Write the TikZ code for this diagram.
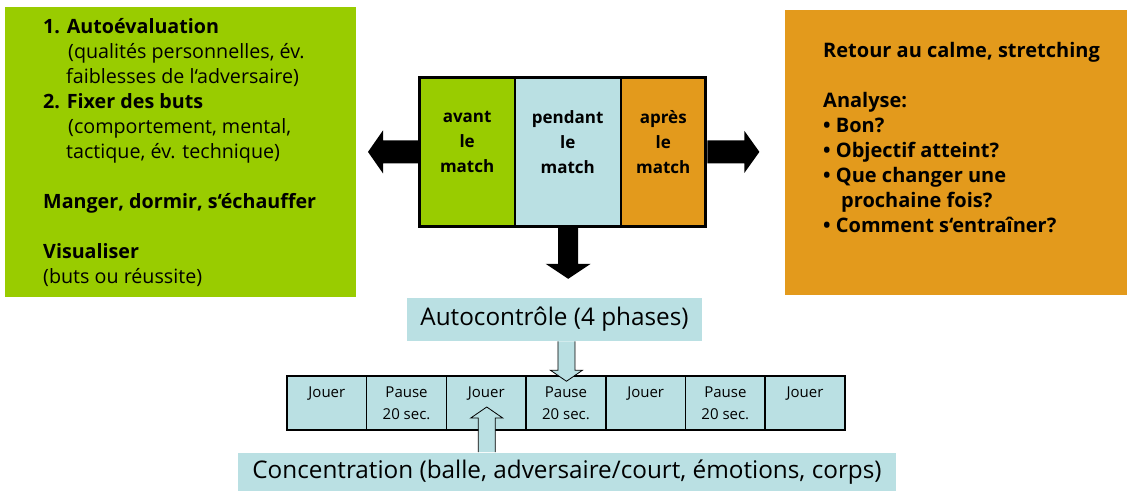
\documentclass[tikz,border=0pt]{standalone}
\usepackage{fontspec}
\setmainfont{Open Sans}
\usetikzlibrary{calc}

\definecolor{prepgreen}{RGB}{153,204,0}
\definecolor{playblue}{RGB}{186,224,227}
\definecolor{afterorange}{RGB}{227,154,28}

\begin{document}
\begin{tikzpicture}[x=1pt,y=-1pt,
  sidebox/.style={minimum width=#1,minimum height=290pt,inner sep=0pt,anchor=north west},
  sidetext/.style={anchor=west,align=left,inner sep=0pt,font=\fontsize{19.7}{25}\selectfont},
  phase/.style={draw=black,line width=0.8pt,minimum width=#1,minimum height=148pt,inner sep=0pt,anchor=north west},
  phasetext/.style={align=center,font=\bfseries\fontsize{17}{25}\selectfont},
  cell/.style={draw=black,line width=1.5pt,fill=playblue,minimum width=79.7pt,minimum height=54pt,
    inner sep=0pt,align=center,font=\fontsize{15}{22}\selectfont},
  banner/.style={fill=playblue,inner sep=0pt,font=\fontsize{24.3}{28}\selectfont},
  hollow/.style={fill=playblue,draw=black,line width=0.8pt,line join=miter}]
  \useasboundingbox (0,0) rectangle (1127,491);

  % before / after boxes
  \node[sidebox=351pt,fill=prepgreen] (prep) at (5,7) {};
  \node[sidebox=342pt,fill=afterorange,minimum height=285pt] (retour) at (785,10) {};

  \node[sidetext] (preptext) at ($(prep.west)+(38,0)$) {%
    \textbf{1. Autoévaluation}\\
    \hspace*{25pt}(qualités personnelles, év.\\
    \hspace*{23pt}faiblesses de l‘adversaire)\\
    \textbf{2. Fixer des buts}\\
    \hspace*{25pt}(comportement, mental,\\
    \hspace*{23pt}tactique, év. technique)\\[25pt]
    \textbf{Manger, dormir, s‘échauffer}\\[25pt]
    \textbf{Visualiser}\\
    (buts ou réussite)};

  \node[sidetext,font=\bfseries\fontsize{20}{25}\selectfont] (retourtext) at ($(retour.west)+(38,-15)$) {%
    Retour au calme, stretching\\[25pt]
    Analyse:\\
    • Bon?\\
    • Objectif atteint?\\
    • Que changer une\\
    \hspace*{18pt}prochaine fois?\\
    • Comment s‘entraîner?};

  % the match in three phases
  \node[phase=94.5pt,fill=prepgreen] (avant) at (419.5,77.5) {};
  \node[phase=105pt,fill=playblue] (pendant) at (avant.north east) {};
  \node[phase=84.5pt,fill=afterorange] (apres) at (pendant.north east) {};
  \draw[line width=3pt] (avant.north west) rectangle (apres.south east);
  \node[phasetext] (avantlbl) at ($(avant.center)+(0,-9.5)$) {avant\\le\\match};
  \node[phasetext] (pendantlbl) at ($(pendant.center)+(0,-9.5)$) {pendant\\le\\match};
  \node[phasetext] (apreslbl) at ($(apres.center)+(0,-9.5)$) {après\\le\\match};

  \fill (avant.west) +(-1.5,-11.5) -- +(-36.5,-11.5) -- +(-36.5,-21.5) -- +(-51.5,0)
    -- +(-36.5,21.5) -- +(-36.5,11.5) -- +(-1.5,11.5) -- cycle;
  \fill (apres.east) +(1.5,-11.5) -- +(38.5,-11.5) -- +(38.5,-21) -- +(53.5,0)
    -- +(38.5,21) -- +(38.5,11.5) -- +(1.5,11.5) -- cycle;
  \fill (pendant.south) +(-9.5,1.5) -- +(-9.5,37.5) -- +(-22,37.5) -- +(0.5,52.5)
    -- +(23,37.5) -- +(10.5,37.5) -- +(10.5,1.5) -- cycle;

  % play and pauses
  \foreach \i/\txt in {1/{Jouer\\~},2/{Pause\\20 sec.},3/{Jouer\\~},4/{Pause\\20 sec.},
      5/{Jouer\\~},6/{Pause\\20 sec.},7/{Jouer\\~}}
    \node[cell] (c\i) at ({287+79.7*(\i-0.5)},403) {\txt};

  \node[banner,minimum width=295pt,minimum height=43pt] (ctrl) at (554.5,319.5) {Autocontrôle (4 phases)};
  \node[banner,minimum width=658pt,minimum height=38pt] (conc) at (567,472) {Concentration (balle, adversaire/court, émotions, corps)};

  \coordinate (ctrltip) at ($(c4.north)+(0.5,6)$);
  \filldraw[hollow] (ctrltip) +(-8.5,-40) -- +(-8.5,-11) -- +(-16,-11) -- +(0,0)
    -- +(16,-11) -- +(8.5,-11) -- +(8.5,-40);
  \coordinate (conctip) at ($(c3.center)+(0.5,4)$);
  \filldraw[hollow] (conctip) +(-8.5,45) -- +(-8.5,11) -- +(-16,11) -- +(0,0)
    -- +(16,11) -- +(8.5,11) -- +(8.5,45);
\end{tikzpicture}
\end{document}
